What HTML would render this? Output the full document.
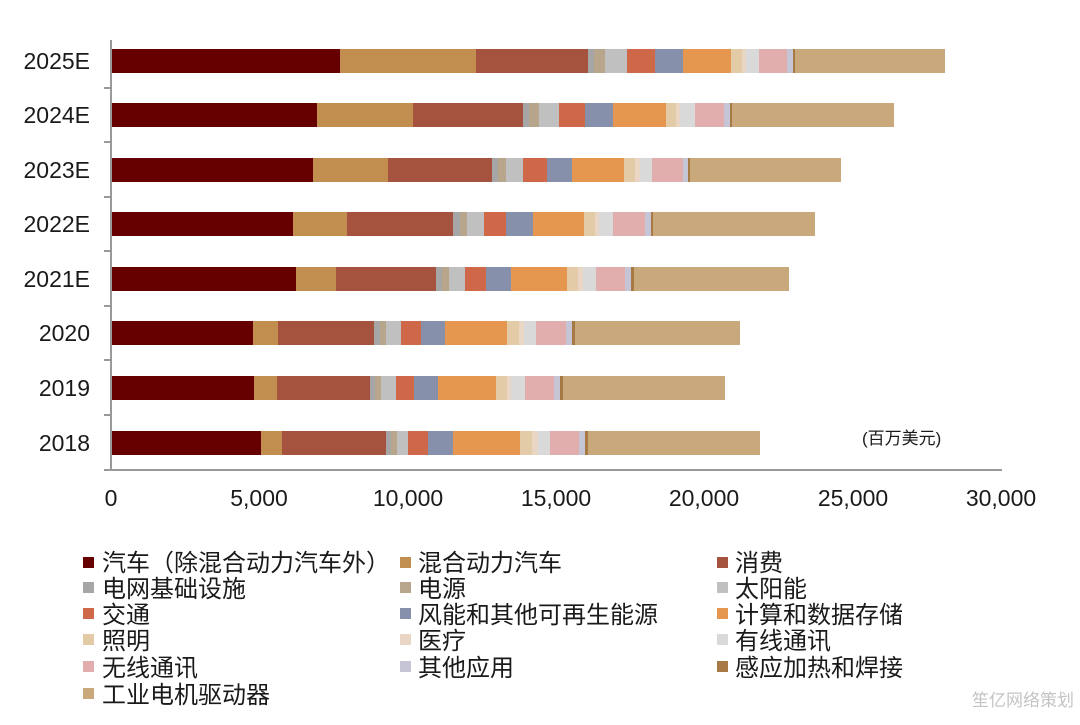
<!DOCTYPE html>
<html><head><meta charset="utf-8"><style>
body{margin:0;background:#fff;width:1080px;height:720px;overflow:hidden;font-family:"Liberation Sans","Noto Sans CJK SC",sans-serif}
svg text{font-family:"Liberation Sans","Noto Sans CJK SC",sans-serif;fill:#1a1a1a}
</style></head><body>
<svg id="s" width="1080" height="720" xmlns="http://www.w3.org/2000/svg">
<g id="bars"></g>
<line x1="111" y1="40" x2="111" y2="470" stroke="#999" stroke-width="2"/>
<line x1="104" y1="470" x2="1002" y2="470" stroke="#999" stroke-width="2"/>
<g stroke="#999" stroke-width="2">
<line x1="104" y1="88" x2="111" y2="88"/><line x1="104" y1="142" x2="111" y2="142"/><line x1="104" y1="197" x2="111" y2="197"/><line x1="104" y1="251" x2="111" y2="251"/><line x1="104" y1="306" x2="111" y2="306"/><line x1="104" y1="360" x2="111" y2="360"/><line x1="104" y1="415" x2="111" y2="415"/>
</g>
<g font-size="23" text-anchor="end">
<text x="90" y="69">2025E</text><text x="90" y="123">2024E</text><text x="90" y="178">2023E</text><text x="90" y="232">2022E</text><text x="90" y="287">2021E</text><text x="90" y="341">2020</text><text x="90" y="396">2019</text><text x="90" y="451">2018</text>
</g>
<g font-size="23" text-anchor="middle">
<text x="111" y="506">0</text><text x="259" y="506">5,000</text><text x="408" y="506">10,000</text><text x="556" y="506">15,000</text><text x="704" y="506">20,000</text><text x="853" y="506">25,000</text><text x="1001" y="506">30,000</text>
</g>
<text x="862" y="444" font-size="17">(百万美元)</text>
<g id="leg" font-size="24">
<text x="102" y="571">汽车（除混合动力汽车外）</text><text x="418" y="571">混合动力汽车</text><text x="735" y="571">消费</text>
<text x="102" y="597">电网基础设施</text><text x="418" y="597">电源</text><text x="735" y="597">太阳能</text>
<text x="102" y="623">交通</text><text x="418" y="623">风能和其他可再生能源</text><text x="735" y="623">计算和数据存储</text>
<text x="102" y="649">照明</text><text x="418" y="649">医疗</text><text x="735" y="649">有线通讯</text>
<text x="102" y="676">无线通讯</text><text x="418" y="676">其他应用</text><text x="735" y="676">感应加热和焊接</text>
<text x="102" y="703">工业电机驱动器</text>
</g>
<text x="1074" y="706" font-size="17" text-anchor="end" style="fill:#c4c4c4">笙亿网络策划</text>
</svg>
<script>
var C=["#660000","#c28e50","#a5523e","#a6a6a6","#b8a68c","#c0c0c0","#cf6848","#8690ab","#e5964f","#e4cba8","#ead6c4","#d9d9d9","#e2adad","#c5c5d5","#a77a45","#c9a87c"];
var B=[[340,476,588,594,605,627,655,683,731,746,759,787,793,795,945],
[317,413,523,529,539,559,585,613,666,680,695,724,730,732,894],
[313,388,492,498,506,523,547,572,624,640,652,683,688,690,841],
[293,347,453,460,467,484,506,533,584,599,613,645,651,653,815],
[296,336,436,442,449,465,486,511,567,583,596,625,631,634,789],
[253,278,374,380,386,401,421,445,507,524,536,566,572,575,740],
[254,277,370,375,381,396,414,438,496,511,525,554,560,563,725],
[261,282,386,391,397,408,428,453,520,538,550,579,585,588,760]];
var Y=[61,115,170,224,279,333,388,443],ns="http://www.w3.org/2000/svg",g=document.getElementById("bars");
function r(x,y,w,h,c,p){var e=document.createElementNS(ns,"rect");e.setAttribute("x",x);e.setAttribute("y",y);e.setAttribute("width",w);e.setAttribute("height",h);e.setAttribute("fill",c);p.appendChild(e);}
B.forEach(function(b,i){var x=112;
var segs=[b[0],b[1],b[2],b[3],b[4],b[5],b[6],b[7],b[8],Math.round((b[8]+b[9])/2)+3,b[9],b[10],b[11],b[12],b[13],b[14]];
segs.forEach(function(e,j){if(e>x){r(x,Y[i]-12,e-x,24,C[j],g);x=e;}});});
var lg=document.getElementById("leg");
var LX=[83,400,717],LY=[563,588,614,640,667,694];
for(var k=0;k<16;k++){r(LX[k%3],LY[Math.floor(k/3)]-6,11,11,C[k],lg);}
</script>
</body></html>
